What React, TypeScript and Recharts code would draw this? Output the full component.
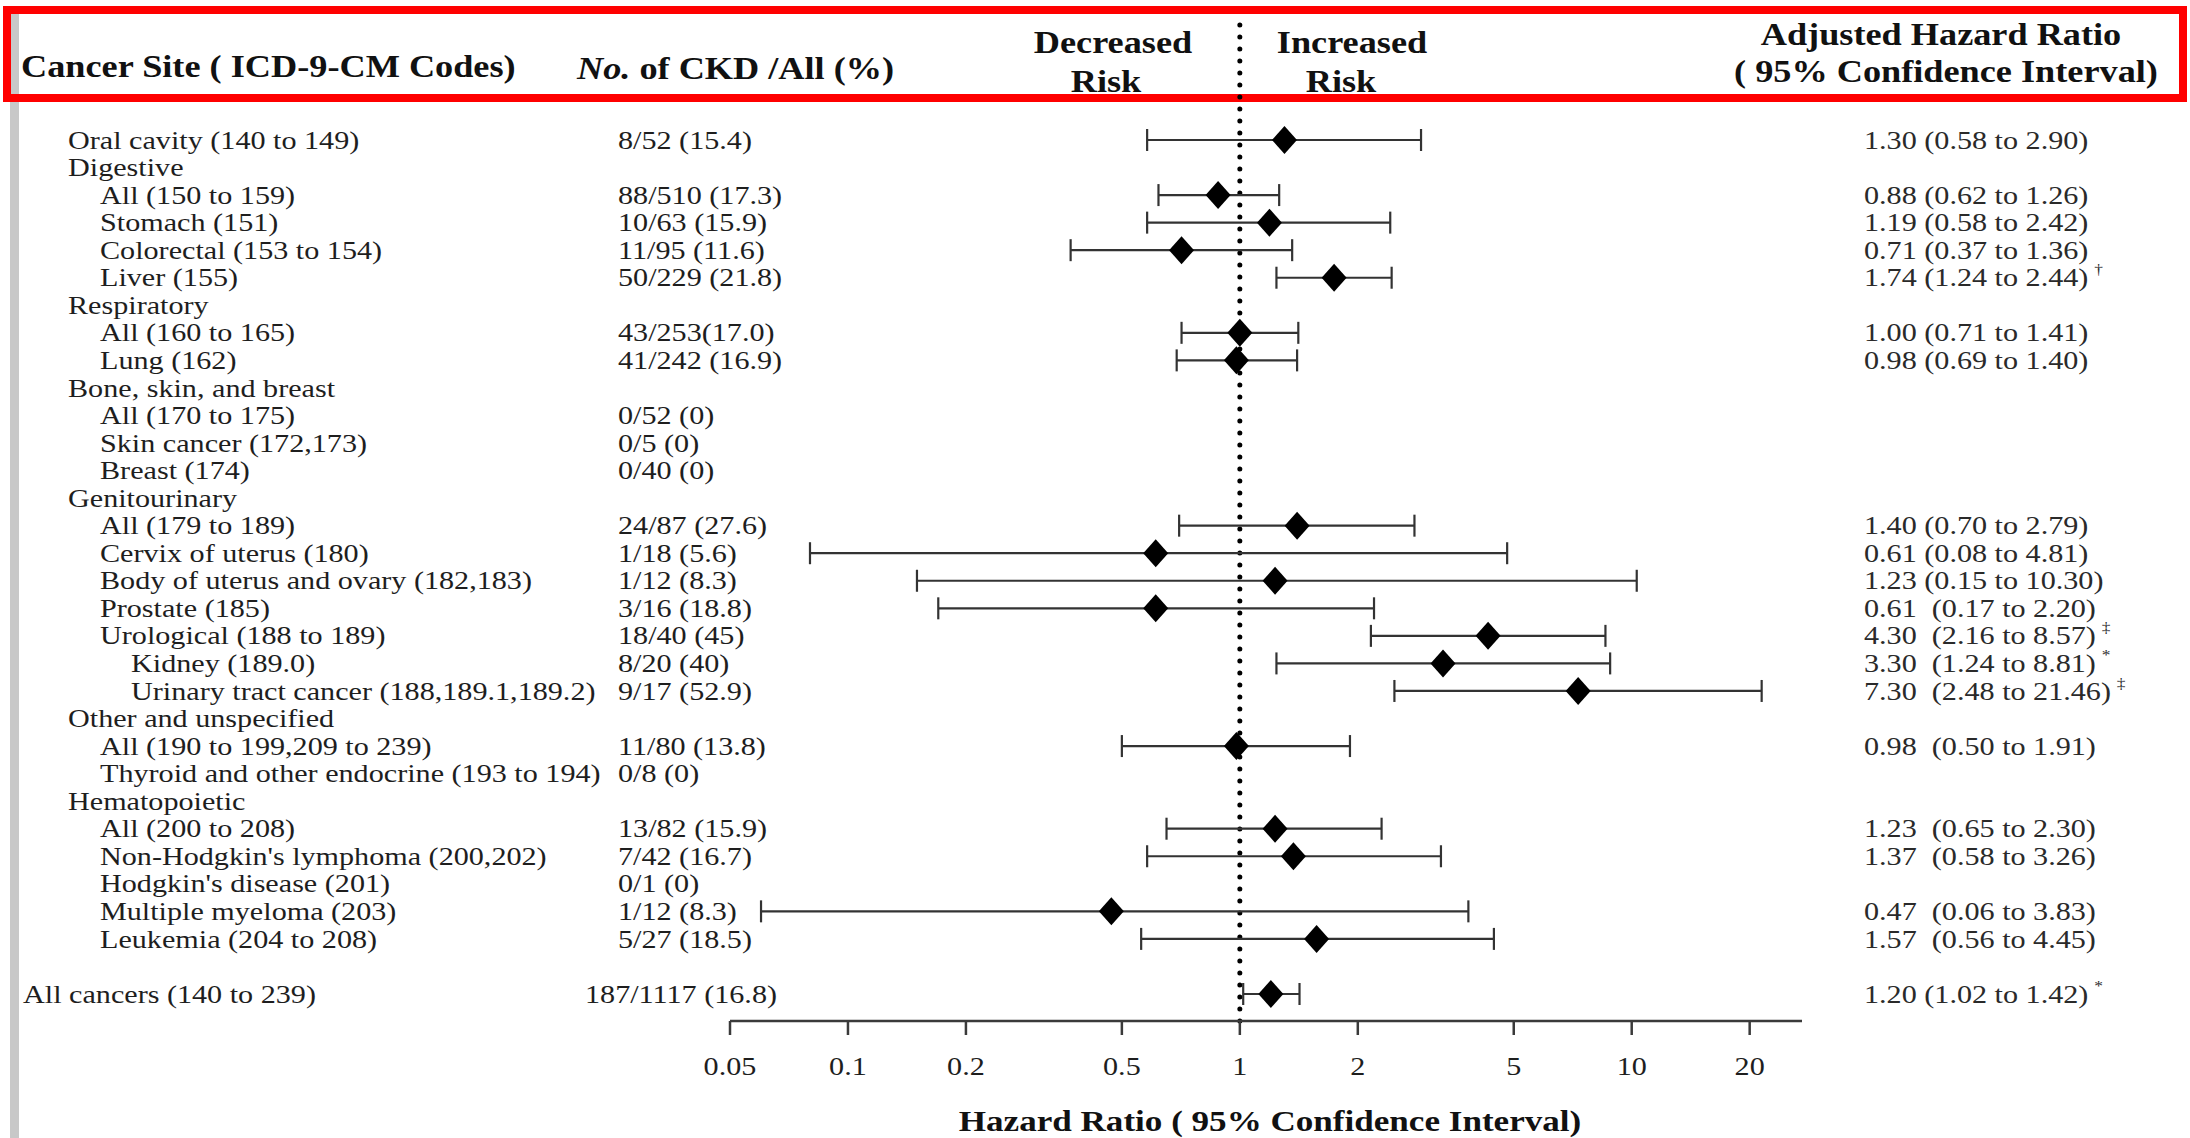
import React from "react";
import {
  ScatterChart,
  Scatter,
  XAxis,
  YAxis,
  ErrorBar,
  ReferenceLine,
  Customized,
} from "recharts";

// one entry per table row (row 30 is the blank spacer before the total)
const siteLabels = [
  "Oral cavity (140 to 149)",
  "Digestive",
  "All (150 to 159)",
  "Stomach (151)",
  "Colorectal (153 to 154)",
  "Liver (155)",
  "Respiratory",
  "All (160 to 165)",
  "Lung (162)",
  "Bone, skin, and breast",
  "All (170 to 175)",
  "Skin cancer (172,173)",
  "Breast (174)",
  "Genitourinary",
  "All (179 to 189)",
  "Cervix of uterus (180)",
  "Body of uterus and ovary (182,183)",
  "Prostate (185)",
  "Urological (188 to 189)",
  "Kidney (189.0)",
  "Urinary tract cancer (188,189.1,189.2)",
  "Other and unspecified",
  "All (190 to 199,209 to 239)",
  "Thyroid and other endocrine (193 to 194)",
  "Hematopoietic",
  "All (200 to 208)",
  "Non-Hodgkin's lymphoma (200,202)",
  "Hodgkin's disease (201)",
  "Multiple myeloma (203)",
  "Leukemia (204 to 208)",
  "",
  "All cancers (140 to 239)",
];

// hierarchy level: 0 group, 1 sub-site, 2 sub-sub-site, -1 overall total
const siteLevels = [
  0, 0, 1, 1, 1, 1, 0, 1, 1, 0, 1, 1, 1, 0, 1, 1, 1, 1, 1, 2, 2, 0, 1, 1, 0, 1,
  1, 1, 1, 1, 0, -1,
];

const ckdCounts = [
  "8/52 (15.4)", "", "88/510 (17.3)", "10/63 (15.9)", "11/95 (11.6)",
  "50/229 (21.8)", "", "43/253(17.0)", "41/242 (16.9)", "", "0/52 (0)",
  "0/5 (0)", "0/40 (0)", "", "24/87 (27.6)", "1/18 (5.6)", "1/12 (8.3)",
  "3/16 (18.8)", "18/40 (45)", "8/20 (40)", "9/17 (52.9)", "", "11/80 (13.8)",
  "0/8 (0)", "", "13/82 (15.9)", "7/42 (16.7)", "0/1 (0)", "1/12 (8.3)",
  "5/27 (18.5)", "", "187/1117 (16.8)",
];

const hazard = [
  1.3, null, 0.88, 1.19, 0.71, 1.74, null, 1.0, 0.98, null, null, null, null,
  null, 1.4, 0.61, 1.23, 0.61, 4.3, 3.3, 7.3, null, 0.98, null, null, 1.23,
  1.37, null, 0.47, 1.57, null, 1.2,
];
const lower = [
  0.58, null, 0.62, 0.58, 0.37, 1.24, null, 0.71, 0.69, null, null, null, null,
  null, 0.7, 0.08, 0.15, 0.17, 2.16, 1.24, 2.48, null, 0.5, null, null, 0.65,
  0.58, null, 0.06, 0.56, null, 1.02,
];
const upper = [
  2.9, null, 1.26, 2.42, 1.36, 2.44, null, 1.41, 1.4, null, null, null, null,
  null, 2.79, 4.81, 10.3, 2.2, 8.57, 8.81, 21.46, null, 1.91, null, null, 2.3,
  3.26, null, 3.83, 4.45, null, 1.42,
];

const hrLabels = [
  "1.30 (0.58 to 2.90)", "", "0.88 (0.62 to 1.26)", "1.19 (0.58 to 2.42)",
  "0.71 (0.37 to 1.36)", "1.74 (1.24 to 2.44)", "", "1.00 (0.71 to 1.41)",
  "0.98 (0.69 to 1.40)", "", "", "", "", "", "1.40 (0.70 to 2.79)",
  "0.61 (0.08 to 4.81)", "1.23 (0.15 to 10.30)", "0.61  (0.17 to 2.20)",
  "4.30  (2.16 to 8.57)", "3.30  (1.24 to 8.81)", "7.30  (2.48 to 21.46)", "",
  "0.98  (0.50 to 1.91)", "", "", "1.23  (0.65 to 2.30)",
  "1.37  (0.58 to 3.26)", "", "0.47  (0.06 to 3.83)", "1.57  (0.56 to 4.45)",
  "", "1.20 (1.02 to 1.42)",
];
const hrNotes = [
  "", "", "", "", "", "\u2020", "", "", "", "", "", "", "", "", "", "", "", "",
  "\u2021", "*", "\u2021", "", "", "", "", "", "", "", "", "", "", "*",
];

const xTicks = [0.05, 0.1, 0.2, 0.5, 1, 2, 5, 10, 20];
const rowTicks = siteLabels.map((_, i) => i);

const points = hazard
  .map((hr, i) =>
    hr == null
      ? null
      : { row: i, hr, err: [hr - (lower[i] as number), (upper[i] as number) - hr] }
  )
  .filter(Boolean);

const FONT = "'Liberation Serif', 'Times New Roman', Times, serif";
const indentX: Record<number, number> = { [-1]: 23, 0: 68, 1: 100, 2: 131 };

function Txt({ x, y, size = 26, weight = 400, anchor = "start", fill = "#1e1e1e", sx = 1.16, children }: any) {
  return (
    <text
      transform={`translate(${x},${y}) scale(${sx},1)`}
      x={0}
      y={0}
      fontFamily={FONT}
      fontSize={size}
      fontWeight={weight}
      textAnchor={anchor}
      fill={fill}
      style={{ whiteSpace: "pre" }}
    >
      {children}
    </text>
  );
}

function LeftTick(props: any) {
  const { y, payload } = props;
  const i = payload.value;
  const lvl = siteLevels[i];
  const by = y + 8.6;
  return (
    <g>
      {siteLabels[i] ? <Txt x={indentX[lvl]} y={by}>{siteLabels[i]}</Txt> : null}
      {ckdCounts[i] ? <Txt x={lvl === -1 ? 585 : 618} y={by}>{ckdCounts[i]}</Txt> : null}
    </g>
  );
}

function RightTick(props: any) {
  const { y, payload } = props;
  const i = payload.value;
  if (!hrLabels[i]) return <g />;
  return (
    <Txt x={1864} y={y + 8.6} fill="#2a2a2a">
      {hrLabels[i]}
      {hrNotes[i] ? (
        <tspan fontSize={15} dx={5} dy={-12}>
          {hrNotes[i]}
        </tspan>
      ) : null}
    </Txt>
  );
}

function XTick(props: any) {
  const { x, payload } = props;
  return (
    <Txt x={x} y={1075} anchor="middle">
      {String(payload.value)}
    </Txt>
  );
}

const Diamond = (p: any) => {
  const { cx, cy } = p;
  return (
    <polygon
      points={`${cx},${cy - 14} ${cx + 12.5},${cy} ${cx},${cy + 14} ${cx - 12.5},${cy}`}
      fill="#000"
    />
  );
};

const Frame = () => (
  <g>
    <rect x={10} y={14} width={9} height={1124} fill="#c8c8c8" />
    <Txt x={21} y={77} size={31} weight={700} sx={1.17} fill="#111">
      Cancer Site ( ICD-9-CM Codes)
    </Txt>
    <Txt x={577} y={79} size={31} weight={700} sx={1.17} fill="#111">
      <tspan fontStyle="italic">No.</tspan> of CKD /All (%)
    </Txt>
    <Txt x={1113} y={53} size={31} weight={700} sx={1.17} anchor="middle" fill="#111">
      Decreased
    </Txt>
    <Txt x={1106} y={92} size={31} weight={700} sx={1.17} anchor="middle" fill="#111">
      Risk
    </Txt>
    <Txt x={1352} y={53} size={31} weight={700} sx={1.17} anchor="middle" fill="#111">
      Increased
    </Txt>
    <Txt x={1341} y={92} size={31} weight={700} sx={1.17} anchor="middle" fill="#111">
      Risk
    </Txt>
    <Txt x={1941} y={45} size={31} weight={700} sx={1.17} anchor="middle" fill="#111">
      Adjusted Hazard Ratio
    </Txt>
    <Txt x={1946} y={82} size={31} weight={700} sx={1.17} anchor="middle" fill="#111">
      ( 95% Confidence Interval)
    </Txt>
    <rect x={7} y={10} width={2176} height={88} fill="none" stroke="#ff0000" strokeWidth={8} />
    <Txt x={1270} y={1131} size={30} weight={700} sx={1.17} anchor="middle" fill="#111">
      Hazard Ratio ( 95% Confidence Interval)
    </Txt>
  </g>
);

export default function App() {
  return (
    <div style={{ position: "absolute", left: 0, top: 0, width: 2190, height: 1138, background: "#fff" }}>
      <ScatterChart width={2190} height={1138} margin={{ top: 14, right: 0, bottom: 0, left: 0 }}>
        <XAxis
          type="number"
          dataKey="hr"
          scale="log"
          domain={[0.05, 27.2]}
          allowDataOverflow
          ticks={xTicks}
          interval={0}
          tick={<XTick />}
          tickSize={14}
          axisLine={{ stroke: "#3a3a3a", strokeWidth: 2.5 }}
          tickLine={{ stroke: "#3a3a3a", strokeWidth: 2.5 }}
          height={117}
        />
        <YAxis
          yAxisId="left"
          type="number"
          dataKey="row"
          domain={[-4.573, 31.98]}
          reversed
          allowDataOverflow
          ticks={rowTicks}
          interval={0}
          tick={<LeftTick />}
          axisLine={false}
          tickLine={false}
          width={730}
        />
        <YAxis
          yAxisId="right"
          orientation="right"
          type="number"
          dataKey="row"
          domain={[-4.573, 31.98]}
          reversed
          allowDataOverflow
          ticks={rowTicks}
          interval={0}
          tick={<RightTick />}
          axisLine={false}
          tickLine={false}
          width={388}
        />
        <ReferenceLine
          yAxisId="left"
          x={1}
          stroke="#000"
          strokeWidth={5}
          strokeDasharray="0 12"
          strokeLinecap="round"
        />
        <Scatter yAxisId="left" data={points as any[]} shape={Diamond} isAnimationActive={false}>
          <ErrorBar
            dataKey="err"
            direction="x"
            width={11}
            stroke="#333"
            strokeWidth={2.2}
            isAnimationActive={false}
          />
        </Scatter>
        <Customized component={Frame} />
      </ScatterChart>
    </div>
  );
}
